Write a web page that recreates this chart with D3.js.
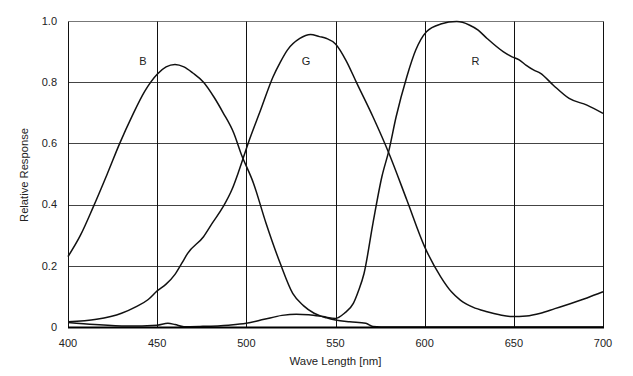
<!DOCTYPE html>
<html><head><meta charset="utf-8">
<script src="https://cdn.jsdelivr.net/npm/d3@7"></script>
<style>body{margin:0;background:#fff}svg{display:block}text{font-family:"Liberation Sans",Arial,sans-serif;fill:#222}</style>
</head><body><svg id="c" width="633" height="376"></svg>
<script>
const xTicks = [400,450,500,550,600,650,700];
const yTicks = [0,0.2,0.4,0.6,0.8,1.0];
const yTickLabels = ["0","0.2","0.4","0.6","0.8","1.0"];
const xTitle = "Wave Length [nm]";
const yTitle = "Relative Response";

const bWave = [400,407,414,422,429,436,443,450,455,460,465,470,476,482,487,493,497,504,511,519,526,532,538,545,550,558,567,571,580,700];
const bVal  = [0.23,0.30,0.39,0.50,0.60,0.69,0.77,0.826,0.85,0.858,0.85,0.83,0.80,0.75,0.70,0.633,0.567,0.47,0.34,0.208,0.11,0.07,0.045,0.03,0.023,0.017,0.012,0.002,0,0];

const gWave = [400,416,430,438,445,450,455,460,464,467,476,481,487,492,496,501,508,515,519,523,530,536,541,545,550,556,562,571,580,590,600,609,615,620,627,635,642,649,657,665,673,682,691,700];
const gVal  = [0.017,0.025,0.045,0.066,0.09,0.118,0.14,0.172,0.21,0.24,0.295,0.34,0.393,0.45,0.513,0.60,0.709,0.818,0.865,0.905,0.943,0.956,0.949,0.943,0.925,0.87,0.796,0.687,0.567,0.415,0.262,0.164,0.115,0.088,0.065,0.05,0.04,0.034,0.036,0.045,0.06,0.077,0.095,0.115];

const rWave = [400,415,433,450,456,460,465,474,490,500,510,520,528,535,543,550,555,560,563,566,571,576,580,584,590,595,601,609,618,625,630,635,644,649,653,657,661,665,672,681,691,700];
const rVal  = [0.015,0.008,0.003,0.006,0.012,0.008,0.001,0.002,0.006,0.012,0.025,0.038,0.042,0.04,0.034,0.028,0.045,0.077,0.12,0.175,0.339,0.491,0.578,0.687,0.818,0.905,0.965,0.99,0.998,0.987,0.97,0.943,0.90,0.883,0.873,0.855,0.84,0.829,0.791,0.747,0.725,0.698];

const seriesNames = ["B","G","R"];
const labelWave = [442,533.5,628.5];
const labelVal = [0.87,0.87,0.87];

const svg = d3.select("#c");
const m = {l:68,t:21,w:535,h:306};
const x = d3.scaleLinear().domain([400,700]).range([m.l, m.l+m.w]);
const y = d3.scaleLinear().domain([0,1]).range([m.t+m.h, m.t]);
const g = svg.append("g").attr("transform","translate(0.5,0.5)");

// horizontal grid
g.selectAll(".hg").data(yTicks.filter(d=>d>0)).join("line")
  .attr("x1",x(400)).attr("x2",x(700))
  .attr("y1",d=>Math.round(y(d))).attr("y2",d=>Math.round(y(d)))
  .attr("stroke",d=>d===1?"#777":"#444").attr("stroke-width",1);
// vertical grid
g.selectAll(".vg").data(xTicks).join("line")
  .attr("x1",d=>Math.round(x(d))).attr("x2",d=>Math.round(x(d)))
  .attr("y1",y(1)).attr("y2",y(0))
  .attr("stroke","#111").attr("stroke-width",1);

// curves
const line = d3.line().curve(d3.curveMonotoneX).x(d=>x(d[0])).y(d=>y(d[1]));
const series = [[bWave,bVal],[gWave,gVal],[rWave,rVal]];
svg.selectAll(".crv").data(series).join("path")
  .attr("d",s=>line(s[0].map((w,i)=>[w,s[1][i]])))
  .attr("fill","none").attr("stroke","#111").attr("stroke-width",1.5);

// bottom axis line
svg.append("line").attr("x1",x(400)).attr("x2",x(700)+1).attr("y1",y(0)+0.5).attr("y2",y(0)+0.5)
  .attr("stroke","#000").attr("stroke-width",2);

// series labels
svg.selectAll(".sl").data(seriesNames).join("text")
  .attr("x",(d,i)=>x(labelWave[i])).attr("y",(d,i)=>y(labelVal[i]))
  .attr("text-anchor","middle").attr("dy","0.35em").attr("font-size",11).text(d=>d);

// y tick labels
svg.selectAll(".yl").data(yTicks).join("text")
  .attr("x",57).attr("y",d=>y(d)).attr("dy","0.35em")
  .attr("text-anchor","end").attr("font-size",11).text((d,i)=>yTickLabels[i]);
// x tick labels
svg.selectAll(".xl").data(xTicks).join("text")
  .attr("x",d=>x(d)).attr("y",347)
  .attr("text-anchor","middle").attr("font-size",11).text(d=>d);

svg.append("text").attr("x",x(550)).attr("y",365).attr("text-anchor","middle").attr("font-size",11.4).text(xTitle);
svg.append("text").attr("transform","translate(28,175) rotate(-90)").attr("text-anchor","middle").attr("font-size",11.2).text(yTitle);
</script></body></html>
